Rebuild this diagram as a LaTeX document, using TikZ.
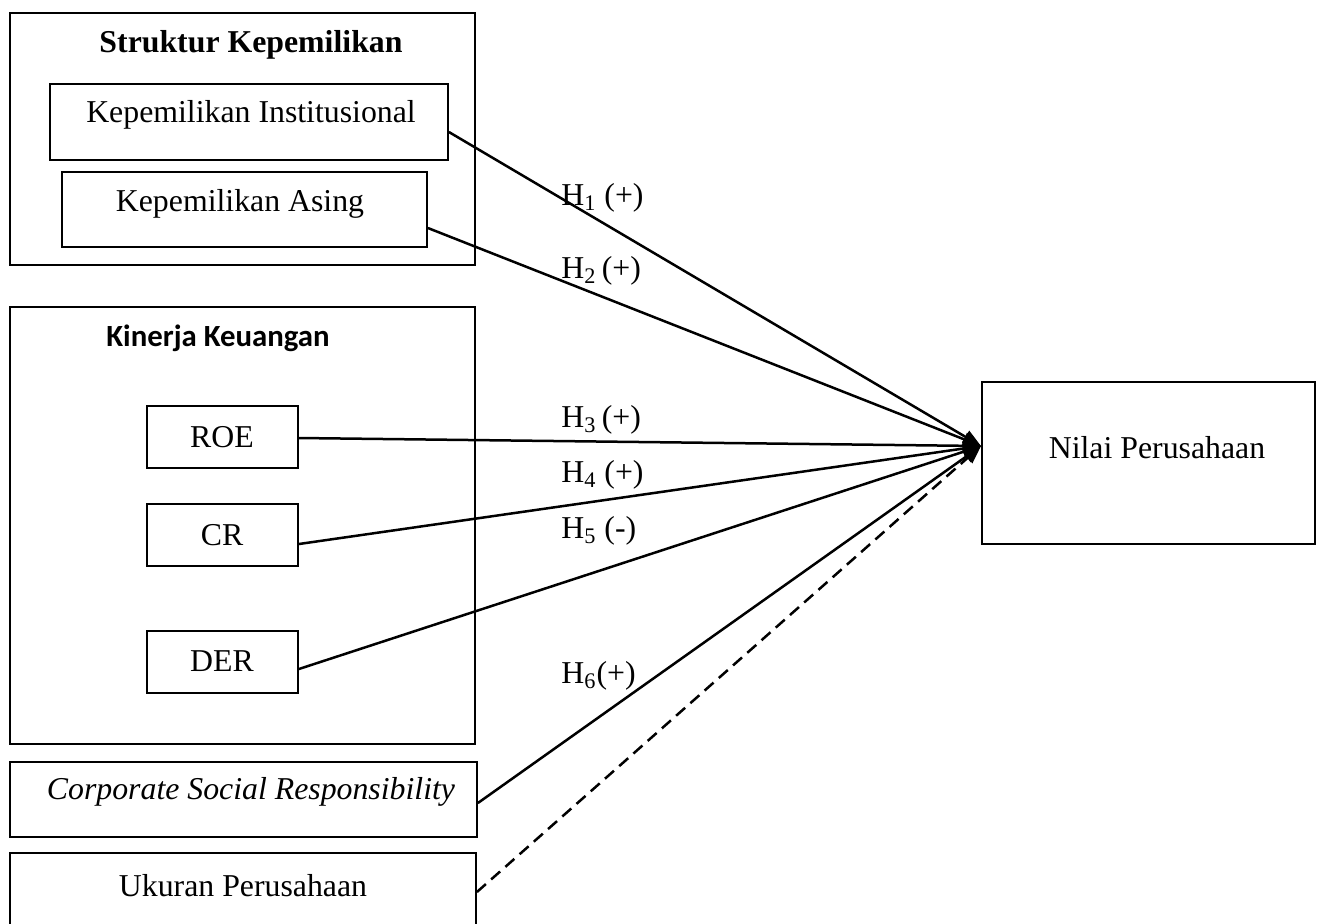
\documentclass[tikz,border=0pt]{standalone}
\usepackage{fontspec}
\setmainfont{Liberation Serif}
\newfontfamily\carlito{Carlito}
\usetikzlibrary{arrows.meta,calc}
\tikzset{
  box/.style={draw, line width=0.9pt, inner sep=0pt},
  txt/.style={inner sep=0pt, font=\fontsize{15.9}{19}\selectfont},
  hyp/.style={inner sep=0pt, anchor=base west, font=\fontsize{15.9}{19}\selectfont},
  conn/.style={line width=1.25pt, -{Triangle[length=9pt,width=7pt]}},
  ctrl/.style={conn, dash pattern=on 6pt off 3.5pt}
}
\begin{document}
\begin{tikzpicture}[x=0.5pt,y=-0.5pt]
\useasboundingbox (0,0) rectangle (1322,923);
% boxes
\node[box, minimum width=232.5pt, minimum height=126pt] (struk) at (242.5,139) {};
\node[box, minimum width=199pt, minimum height=38pt] (inst) at (249,122) {};
\node[box, minimum width=182.5pt, minimum height=37.5pt] (asing) at (244.5,209.5) {};
\node[box, minimum width=232.5pt, minimum height=218.5pt] (kin) at (242.5,525.5) {};
\node[box, minimum width=75.5pt, minimum height=31pt] (roe) at (222.5,437) {};
\node[box, minimum width=75.5pt, minimum height=31pt] (cr) at (222.5,535) {};
\node[box, minimum width=75.5pt, minimum height=31pt] (der) at (222.5,662) {};
\node[box, minimum width=233.5pt, minimum height=37.5pt] (csr) at (243.5,799.5) {};
\node[box, minimum width=233pt, minimum height=41pt] (uk) at (243,894) {};
\node[box, minimum width=166.5pt, minimum height=81pt] (nilai) at (1148.5,463) {};
% texts
\node[txt, font=\fontsize{15.9}{19}\selectfont\bfseries] (tstruk) at (251,45) {Struktur Kepemilikan};
\node[txt] (tinst) at (251,115) {Kepemilikan Institusional};
\node[txt] (tasing) at (240,204) {Kepemilikan Asing};
\node[txt, font=\fontsize{15.4}{19}\carlito\bfseries] (tkin) at (218,338) {Kinerja Keuangan};
\node[txt] (troe) at (222,437) {ROE};
\node[txt] (tcr) at (222,535) {CR};
\node[txt] (tder) at (222,661) {DER};
\node[txt, font=\fontsize{15.9}{19}\selectfont\itshape] (tcsr) at (251,792) {Corporate Social Responsibility};
\node[txt] (tuk) at (243,886) {Ukuran Perusahaan};
\node[txt] (tnilai) at (1157,448) {Nilai Perusahaan};
% hypothesis labels
\node[hyp] (h1) at (561,205) {H\textsubscript{1} (+)};
\node[hyp] (h2) at (561,278) {H\textsubscript{2}\,(+)};
\node[hyp] (h3) at (561,427) {H\textsubscript{3}\,(+)};
\node[hyp] (h4) at (561,482) {H\textsubscript{4} (+)};
\node[hyp] (h5) at (561,538) {H\textsubscript{5} (-)};
\node[hyp] (h6) at (561,683) {H\textsubscript{6}(+)};
% connectors
\coordinate (tip) at (981,446);
\draw[conn] ([yshift=-5pt]inst.east) -- (tip);
\draw[conn] ([yshift=-9.25pt]asing.east) -- (tip);
\draw[conn] ([yshift=-0.5pt]roe.east) -- (tip);
\draw[conn] ([yshift=-4.5pt]cr.east) -- (tip);
\draw[conn] ([yshift=-3.5pt]der.east) -- (tip);
\draw[conn] ([yshift=-1.75pt]csr.east) -- (tip);
\draw[ctrl] ([yshift=1pt]uk.east) -- (tip);
\end{tikzpicture}
\end{document}
